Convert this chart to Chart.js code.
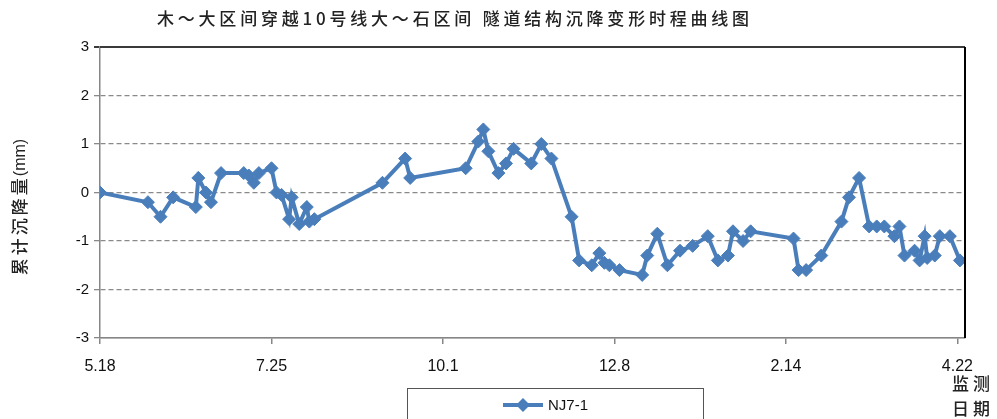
<!DOCTYPE html>
<html>
<head>
<meta charset="utf-8">
<script src="https://cdn.jsdelivr.net/npm/chart.js@4.4.1/dist/chart.umd.min.js"></script>
<style>
  html, body { margin: 0; padding: 0; background: #fff; }
  #settleChart { display: block; }
</style>
</head>
<body>
<canvas id="settleChart" width="997" height="419"></canvas>
<script>
// days after 5.18 and settlement (mm) of point NJ7-1
const days = [0, 19, 24, 29, 38, 39, 42, 44, 48, 57, 59, 61, 63, 68, 70, 72, 75, 76, 79, 82, 83, 85,
    112, 121, 123, 145, 150, 152, 154, 158, 161, 164, 171, 175, 179, 187, 190, 195, 198, 200, 202, 206,
    215, 217, 221, 225, 230, 235, 241, 245, 249, 251, 255, 258, 275, 277, 280, 286, 294, 297, 301, 305,
    308, 311, 315, 317, 319, 323, 325, 327, 328, 331, 333, 337, 341];
const nj71 = [0, -0.2, -0.5, -0.1, -0.3, 0.3, 0.0, -0.2, 0.4, 0.4, 0.35, 0.2, 0.4, 0.5, 0.0, -0.05, -0.55, -0.1, -0.65, -0.3, -0.6, -0.55,
    0.2, 0.7, 0.3, 0.5, 1.05, 1.3, 0.85, 0.4, 0.6, 0.9, 0.6, 1.0, 0.7, -0.5, -1.4, -1.5, -1.25, -1.45, -1.5, -1.6,
    -1.7, -1.3, -0.85, -1.5, -1.2, -1.1, -0.9, -1.4, -1.3, -0.8, -1.0, -0.8, -0.95, -1.6, -1.6, -1.3, -0.6, -0.1, 0.3, -0.7,
    -0.7, -0.7, -0.9, -0.7, -1.3, -1.2, -1.4, -0.9, -1.35, -1.3, -0.9, -0.9, -1.4];
const tickDays = [0, 68, 136, 204, 272, 340];
const tickLabels = ['5.18', '7.25', '10.1', '12.8', '2.14', '4.22'];

const titleText = '木～大区间穿越10号线大～石区间 隧道结构沉降变形时程曲线图';
const yTitleMain = '累计沉降量';
const yTitleUnit = '(mm)';
const seriesName = 'NJ7-1';
const lineColor = '#4A7EBB';

// titles, frame and legend box drawn around the plot
const decorations = {
    id: 'decorations',
    afterDraw(chart) {
        const c = chart.ctx;
        const area = chart.chartArea;
        c.save();

        // top and right frame
        c.strokeStyle = '#3a3a3a';
        c.lineWidth = 2;
        c.beginPath();
        c.moveTo(area.left, area.top);
        c.lineTo(area.right, area.top);
        c.stroke();
        c.strokeStyle = '#000';
        c.beginPath();
        c.moveTo(area.right, area.top);
        c.lineTo(area.right, area.bottom);
        c.stroke();

        c.fillStyle = '#222';
        c.textBaseline = 'middle';
        c.textAlign = 'left';

        // chart title, stretched to the reference width
        c.font = '500 17px "Noto Sans CJK SC"';
        let w = c.measureText(titleText).width;
        let gap = Math.max(0, (592 - w) / (titleText.length - 1));
        c.letterSpacing = gap.toFixed(2) + 'px';
        c.fillText(titleText, 157, 19);
        c.letterSpacing = '0px';

        // y axis title: spaced CJK part, then the unit
        c.save();
        c.translate(20, 207);
        c.rotate(-Math.PI / 2);
        c.font = '500 17px "Noto Sans CJK SC"';
        gap = 3;
        w = c.measureText(yTitleMain).width + gap * (yTitleMain.length - 1);
        c.font = '16px "Liberation Sans"';
        const wu = c.measureText(yTitleUnit).width;
        const start = -(w + wu + 2) / 2;
        c.font = '500 17px "Noto Sans CJK SC"';
        c.letterSpacing = gap + 'px';
        c.fillText(yTitleMain, start, 0);
        c.letterSpacing = '0px';
        c.font = '16px "Liberation Sans"';
        c.fillText(yTitleUnit, start + w + 2, 1);
        c.restore();

        // x axis title
        c.font = '500 17px "Noto Sans CJK SC"';
        c.letterSpacing = '4px';
        c.fillText('监测', 952, 384);
        c.fillText('日期', 952, 409);
        c.letterSpacing = '0px';

        // legend box
        c.strokeStyle = '#555';
        c.lineWidth = 1;
        c.strokeRect(407.5, 388.5, 296, 40);
        c.strokeStyle = lineColor;
        c.lineWidth = 4;
        c.beginPath();
        c.moveTo(503, 405);
        c.lineTo(543, 405);
        c.stroke();
        c.fillStyle = lineColor;
        c.beginPath();
        c.moveTo(523, 398);
        c.lineTo(530, 405);
        c.lineTo(523, 412);
        c.lineTo(516, 405);
        c.closePath();
        c.fill();
        c.fillStyle = '#111';
        c.font = '15px "Liberation Sans"';
        c.fillText(seriesName, 548, 406);

        c.restore();
    }
};

document.addEventListener('DOMContentLoaded', function () {
    const ctx = document.getElementById('settleChart');
    new Chart(ctx.getContext('2d'), {
        type: 'line',
        data: {
            datasets: [{
                label: seriesName,
                data: days.map((d, i) => ({ x: d, y: nj71[i] })),
                borderColor: lineColor,
                backgroundColor: lineColor,
                borderWidth: 4,
                pointStyle: 'rectRot',
                pointRadius: 6.5,
                pointBorderWidth: 1,
                pointBackgroundColor: lineColor,
                pointBorderColor: lineColor,
                tension: 0
            }]
        },
        options: {
            responsive: false,
            animation: false,
            layout: { padding: { top: 47, right: 32, left: 0, bottom: 0 } },
            plugins: {
                legend: { display: false },
                tooltip: { enabled: false }
            },
            scales: {
                x: {
                    type: 'linear',
                    min: 0,
                    max: 343,
                    afterBuildTicks: (scale) => {
                        scale.ticks = tickDays.map(v => ({ value: v }));
                    },
                    afterFit: (scale) => { scale.height = 81; },
                    grid: {
                        drawOnChartArea: false,
                        drawTicks: true,
                        tickLength: 6,
                        color: '#868686',
                        lineWidth: 1.5
                    },
                    border: { color: '#868686', width: 1.5 },
                    ticks: {
                        autoSkip: false,
                        maxRotation: 0,
                        padding: 13,
                        color: '#111',
                        font: { family: 'Liberation Sans', size: 16 },
                        callback: (value) => tickLabels[tickDays.indexOf(value)]
                    }
                },
                y: {
                    min: -3,
                    max: 3,
                    afterFit: (scale) => { scale.width = 100; },
                    grid: {
                        tickLength: 6,
                        color: (c) => {
                            if (c.tick.value === 3) return '#3a3a3a';
                            if (c.tick.value === -3) return '#868686';
                            return '#8a8a8a';
                        },
                        lineWidth: (c) => (c.tick.value === 3 ? 2 : 1.3)
                    },
                    border: {
                        color: '#868686',
                        width: 1.5,
                        dash: (c) => (c.tick && Math.abs(c.tick.value) === 3 ? [] : [5, 3])
                    },
                    ticks: {
                        stepSize: 1,
                        padding: 5,
                        color: '#111',
                        font: { family: 'Liberation Sans', size: 15 }
                    }
                }
            }
        },
        plugins: [decorations]
    });
});
</script>
</body>
</html>
